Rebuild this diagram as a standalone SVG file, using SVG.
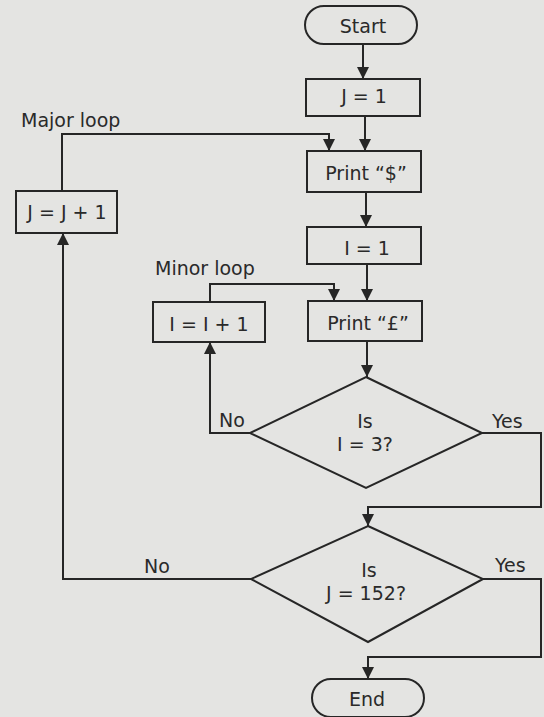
<svg xmlns="http://www.w3.org/2000/svg" width="544" height="717" viewBox="0 0 544 717">
<style>
.box{fill:none;stroke:#262626;stroke-width:2}
.ln{fill:none;stroke:#262626;stroke-width:2;marker-end:url(#ah)}
text{font-family:"DejaVu Sans","Liberation Sans",sans-serif;font-size:19px;fill:#2a2a2a}
.c{text-anchor:middle}
</style>
<defs>
<marker id="ah" viewBox="0 0 12 12" refX="12" refY="6" markerWidth="12" markerHeight="12" markerUnits="userSpaceOnUse" orient="auto">
<path d="M0,0 L12,6 L0,12 z" fill="#262626"/>
</marker>
</defs>
<rect width="544" height="717" fill="#e4e4e2"/>
<g id="connectors">
<path class="ln" d="M363,44 V79"/>
<path class="ln" d="M365,116 V151"/>
<path class="ln" d="M366,192 V227"/>
<path class="ln" d="M367,264 V301"/>
<path class="ln" d="M367,341 V377"/>
<path class="ln" d="M250,433 H210 V342"/>
<path class="ln" d="M210,302 V284 H334 V301"/>
<path class="ln" d="M482,433 H541 V507 H368 V526"/>
<path class="ln" d="M251,579 H63 V233"/>
<path class="ln" d="M62,191 V134 H329 V151"/>
<path class="ln" d="M483,579 H541 V657 H368 V679"/>
<text x="21" y="127">Major loop</text>
<text x="155" y="275">Minor loop</text>
<text x="219" y="427">No</text>
<text x="492" y="428">Yes</text>
<text x="144" y="573">No</text>
<text x="495" y="572">Yes</text>
</g>
<g id="start">
<rect class="box" x="305" y="6" width="112" height="38" rx="19"/>
<text class="c" x="363" y="33">Start</text>
</g>
<g id="j1">
<rect class="box" x="306" y="79" width="114" height="37"/>
<text class="c" x="364" y="103">J = 1</text>
</g>
<g id="printdollar">
<rect class="box" x="307" y="151" width="114" height="41"/>
<text class="c" x="366" y="180">Print “$”</text>
</g>
<g id="jinc">
<rect class="box" x="16" y="191" width="101" height="42"/>
<text class="c" x="67" y="219">J = J + 1</text>
</g>
<g id="i1">
<rect class="box" x="307" y="227" width="114" height="37"/>
<text class="c" x="367" y="255">I = 1</text>
</g>
<g id="printpound">
<rect class="box" x="308" y="301" width="114" height="40"/>
<text class="c" x="368" y="330">Print “£”</text>
</g>
<g id="iinc">
<rect class="box" x="153" y="302" width="112" height="40"/>
<text class="c" x="209" y="331">I = I + 1</text>
</g>
<g id="dec1">
<polygon class="box" points="366,377 482,433 366,488 250,433"/>
<text class="c" x="365" y="428">Is</text>
<text class="c" x="365" y="451">I = 3?</text>
</g>
<g id="dec2">
<polygon class="box" points="368,526 483,579 368,642 251,579"/>
<text class="c" x="369" y="577">Is</text>
<text class="c" x="366" y="600">J = 152?</text>
</g>
<g id="end">
<rect class="box" x="312" y="679" width="112" height="38" rx="19"/>
<text class="c" x="367" y="706">End</text>
</g>
</svg>
